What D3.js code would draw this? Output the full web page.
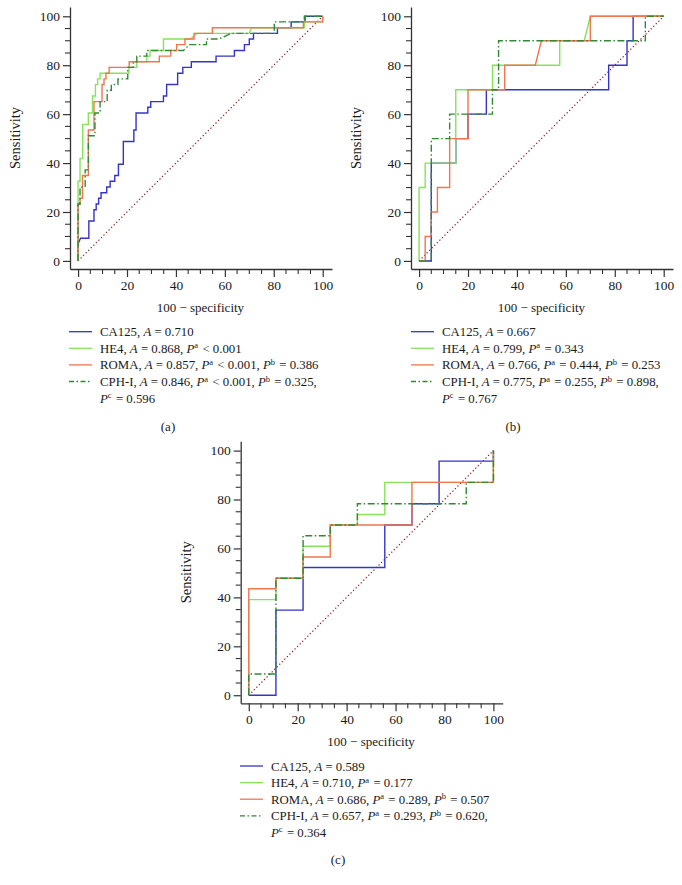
<!DOCTYPE html>
<html><head><meta charset="utf-8">
<script src="https://cdn.jsdelivr.net/npm/d3@7"></script>
<style>
body{margin:0;background:#fff;}
svg{display:block;}
text{font-family:"Liberation Serif","Times New Roman",serif;fill:#1a1a1a;}
</style>
</head><body>
<svg id="chart" width="682" height="885"></svg>
<script>
// ---------------- DATA ----------------
const tickValues = [0, 20, 40, 60, 80, 100];
const seriesNames = ["CA125", "HE4", "ROMA", "CPH-I"];
const xLabel = "100 \u2212 specificity";
const yLabel = "Sensitivity";
const captions = ["(a)", "(b)", "(c)"];

// Panel (a): [100 - specificity, sensitivity]
const a_CA125 = [[0,0],[0,7.0],[1,9.3],[4.4,9.3],[4.4,16.3],[6.5,16.3],[6.5,20.9],[7.4,20.9],[7.4,23.3],[8.4,23.3],[8.4,25.6],[9.4,25.6],[9.4,27.9],[11.7,27.9],[11.7,30.2],[13.1,30.2],[13.1,32.6],[15,32.6],[15,34.9],[16.5,34.9],[16.5,39.5],[18.5,39.5],[18.5,48.8],[22.8,48.8],[22.8,53.5],[23.7,53.5],[23.7,60.5],[28.5,60.5],[28.5,62.8],[29.7,62.8],[29.7,65.1],[34.9,65.1],[34.9,67.4],[36.2,67.4],[36.2,72.1],[40.7,72.1],[40.7,76.7],[42.8,76.7],[42.8,79.1],[46.3,79.1],[46.3,81.4],[56.4,81.4],[56.4,83.7],[63.9,83.7],[63.9,86.0],[68.0,86.0],[68.0,88.4],[70.0,88.4],[70.0,90.7],[71.7,90.7],[71.7,93.0],[81.5,93.0],[81.5,95.3],[87.1,95.3],[87.1,97.7],[92.8,97.7],[92.8,100],[100,100]];
const a_HE4 = [[0,0],[0,32.6],[0.8,32.6],[0.8,41.9],[1.9,41.9],[1.9,55.8],[4.2,55.8],[4.2,60.5],[5.9,60.5],[5.9,67.4],[7.1,67.4],[7.1,72.1],[8.0,72.1],[8.0,74.4],[9.0,74.4],[9.0,76.7],[20.8,76.7],[20.8,79.1],[24,79.1],[24,81.4],[28.1,81.4],[28.1,83.7],[29.4,83.7],[29.4,86.0],[34.9,86.0],[34.9,90.7],[46,90.7],[48.5,93.0],[69.9,93.0],[71,95.3],[92.5,95.3],[92.5,97.7],[100,97.7],[100,100]];
const a_ROMA = [[0,0],[0,23.3],[0.8,23.3],[0.8,25.6],[1.8,25.6],[1.8,34.9],[4.2,34.9],[4.2,53.5],[6.5,53.5],[6.5,65.1],[9.8,65.1],[9.8,72.1],[10.6,72.1],[10.6,74.4],[11.4,74.4],[11.4,76.7],[12.7,76.7],[12.7,79.1],[20.9,79.1],[20.9,81.4],[33.2,81.4],[33.2,83.7],[37.9,83.7],[37.9,86.0],[40.3,86.0],[40.3,88.4],[43.7,88.4],[43.7,90.7],[47.4,90.7],[47.4,93.0],[54.9,93.0],[54.9,95.3],[92.1,95.3],[92.1,97.7],[100,97.7],[100,100]];
const a_CPH = [[0,0],[0,23.3],[0.8,23.3],[0.8,30.2],[2.9,30.2],[2.9,37.2],[4.2,37.2],[4.2,51.2],[6.9,51.2],[6.9,60.5],[9.0,60.5],[9.0,65.1],[11.9,65.1],[11.9,69.8],[13.6,69.8],[13.6,72.1],[16.3,72.1],[16.3,74.4],[20.3,74.4],[20.3,79.1],[22.6,79.1],[22.6,81.4],[24,81.4],[24,83.7],[28.1,83.7],[28.1,86.0],[43,86.0],[45.5,88.4],[52.5,88.4],[52.5,90.7],[57.5,90.7],[62.5,93.0],[80.2,93.0],[80.2,97.7],[92.5,97.7],[92.5,100],[100,100]];

// Panel (b)
const b_CA125 = [[0,0],[5,0],[5,40],[15,40],[15,50],[20,50],[20,60],[27.5,60],[27.5,70],[77.5,70],[77.5,80],[85,80],[85,90],[87.5,90],[87.5,100],[100,100]];
const b_HE4 = [[0,0],[0,30],[2.5,30],[2.5,40],[15,40],[15,70],[30,70],[30,80],[57.5,80],[57.5,90],[67.5,90],[70,100],[100,100]];
const b_ROMA = [[0,0],[2.5,0],[2.5,10],[5,10],[5,20],[7.5,20],[7.5,30],[12.5,30],[12.5,50],[20,50],[20,70],[35,70],[35,80],[47.5,80],[50,90],[70,90],[70,100],[100,100]];
const b_CPH = [[0,0],[5,0],[5,50],[12.5,50],[12.5,60],[30,60],[30,70],[32.5,70],[32.5,90],[92.5,90],[92.5,100],[100,100]];

// Panel (c)
const c_CA125 = [[0,0],[11.1,0],[11.1,34.8],[22.2,34.8],[22.2,52.2],[55.6,52.2],[55.6,69.6],[66.7,69.6],[66.7,78.3],[77.8,78.3],[77.8,95.7],[100,95.7],[100,100]];
const c_HE4 = [[0,0],[0,39.1],[11.1,39.1],[11.1,47.8],[22.2,47.8],[22.2,60.9],[33.3,60.9],[33.3,69.6],[44.4,69.6],[44.4,73.9],[55.6,73.9],[55.6,87.0],[100,87.0],[100,100]];
const c_ROMA = [[0,0],[0,43.5],[11.1,43.5],[11.1,47.8],[22.2,47.8],[22.2,56.5],[33.3,56.5],[33.3,69.6],[66.7,69.6],[66.7,87.0],[100,87.0],[100,100]];
const c_CPH = [[0,0],[0,8.7],[11.1,8.7],[11.1,47.8],[22.2,47.8],[22.2,65.2],[33.3,65.2],[33.3,69.6],[44.4,69.6],[44.4,78.3],[88.9,78.3],[88.9,87.0],[100,87.0],[100,100]];

const diagonal = [[0,0],[100,100]];

// Legend texts (*x* = italic, ^x = superscript)
const legendA = ["CA125, *A* = 0.710", "HE4, *A* = 0.868, *P*^a < 0.001", "ROMA, *A* = 0.857, *P*^a < 0.001, *P*^b = 0.386", "CPH-I, *A* = 0.846, *P*^a < 0.001, *P*^b = 0.325,", "*P*^c = 0.596"];
const legendB = ["CA125, *A* = 0.667", "HE4, *A* = 0.799, *P*^a = 0.343", "ROMA, *A* = 0.766, *P*^a = 0.444, *P*^b = 0.253", "CPH-I, *A* = 0.775, *P*^a = 0.255, *P*^b = 0.898,", "*P*^c = 0.767"];
const legendC = ["CA125, *A* = 0.589", "HE4, *A* = 0.710, *P*^a = 0.177", "ROMA, *A* = 0.686, *P*^a = 0.289, *P*^b = 0.507", "CPH-I, *A* = 0.657, *P*^a = 0.293, *P*^b = 0.620,", "*P*^c = 0.364"];

// ---------------- STYLE ----------------
const colors = ["#3434c8", "#86e35a", "#f0764c", "#2f8a34"];
const dashes = [null, null, null, "7,2.5,1.5,2.5"];
const diagColor = "#8b2626";

const panels = [
  {series:[a_CA125,a_HE4,a_ROMA,a_CPH], legend:legendA, left:70, bottom:269, legX:69, legY:331.7, cap:[168,426], caption:captions[0]},
  {series:[b_CA125,b_HE4,b_ROMA,b_CPH], legend:legendB, left:411, bottom:269, legX:411, legY:331.7, cap:[513,426], caption:captions[1]},
  {series:[c_CA125,c_HE4,c_ROMA,c_CPH], legend:legendC, left:240.7, bottom:703.3, legX:240, legY:766, cap:[338,859], caption:captions[2]}
];

const svg = d3.select("#chart");
const AX = 262;
const dom = [-3.3, 103.8];

function addRich(textSel, str){
  const parts = str.split(/(\*[^*]+\*|\^[a-z])/).filter(s => s.length);
  parts.forEach(p => {
    if (p[0] === "*") {
      textSel.append("tspan").attr("font-style","italic").text(p.slice(1,-1));
    } else if (p[0] === "^") {
      textSel.append("tspan").attr("font-size","8.5px").attr("dy","-4.5").text(p.slice(1));
      textSel.append("tspan").attr("dy","4.5").text("\u200A");
    } else {
      textSel.append("tspan").text(p);
    }
  });
}

panels.forEach(P => {
  const g = svg.append("g");
  const x = d3.scaleLinear().domain(dom).range([P.left, P.left + AX]);
  const y = d3.scaleLinear().domain(dom).range([P.bottom, P.bottom - AX]);

  // axes
  const xAxis = d3.axisBottom(x).tickValues(tickValues).tickSize(8).tickSizeOuter(0).tickPadding(3);
  const yAxis = d3.axisLeft(y).tickValues(tickValues).tickSize(7).tickSizeOuter(0).tickPadding(3);
  const minor = d3.range(5, 100, 5).filter(v => v % 20 !== 0);

  const gx = g.append("g").attr("transform", `translate(0,${P.bottom})`).call(xAxis);
  const gy = g.append("g").attr("transform", `translate(${P.left},0)`).call(yAxis);
  [gx, gy].forEach(a => {
    a.attr("font-family", null).attr("font-size", null);
    a.select(".domain").attr("stroke","#333").attr("stroke-width",1.3);
    a.selectAll(".tick line").attr("stroke","#333").attr("stroke-width",1.2);
    a.selectAll(".tick text").attr("font-size","13.5px").attr("fill","#1a1a1a");
  });
  g.append("g").selectAll("line").data(minor).join("line")
    .attr("x1", d => x(d)).attr("x2", d => x(d))
    .attr("y1", P.bottom).attr("y2", P.bottom + 5)
    .attr("stroke","#333").attr("stroke-width",1.1);
  g.append("g").selectAll("line").data(minor).join("line")
    .attr("y1", d => y(d)).attr("y2", d => y(d))
    .attr("x1", P.left).attr("x2", P.left - 5)
    .attr("stroke","#333").attr("stroke-width",1.1);

  // axis labels
  g.append("text").attr("x", (x(0)+x(100))/2).attr("y", P.bottom + 42.5)
    .attr("text-anchor","middle").attr("font-size","13px").text(xLabel);
  g.append("text")
    .attr("transform", `translate(${P.left - 50},${P.bottom - AX/2}) rotate(-90)`)
    .attr("text-anchor","middle").attr("font-size","14.5px").text(yLabel);

  // lines
  const line = d3.line().x(d => x(d[0])).y(d => y(d[1]));
  g.append("path").datum(diagonal).attr("d", line).attr("fill","none")
    .attr("stroke", diagColor).attr("stroke-width",1.2).attr("stroke-dasharray","1.3,2.3");
  P.series.forEach((s, i) => {
    g.append("path").datum(s).attr("d", line).attr("fill","none")
      .attr("stroke", colors[i]).attr("stroke-width",1.4)
      .attr("stroke-dasharray", dashes[i]);
  });

  // legend
  const rowH = 16.6;
  P.legend.forEach((str, i) => {
    const cy = P.legY + i * rowH;
    if (i < seriesNames.length) {
      g.append("line").attr("x1", P.legX).attr("x2", P.legX + 23)
        .attr("y1", cy).attr("y2", cy)
        .attr("stroke", colors[i]).attr("stroke-width",1.3)
        .attr("stroke-dasharray", dashes[i] ? "5,2.5,1.5,2.5" : null);
    }
    const t = g.append("text").attr("x", P.legX + 31).attr("y", cy + 4.5).attr("font-size","12.8px");
    addRich(t, str);
  });

  // caption
  g.append("text").attr("x", P.cap[0]).attr("y", P.cap[1] + 4.5)
    .attr("text-anchor","middle").attr("font-size","13px").text(P.caption);
});
</script>
</body></html>
